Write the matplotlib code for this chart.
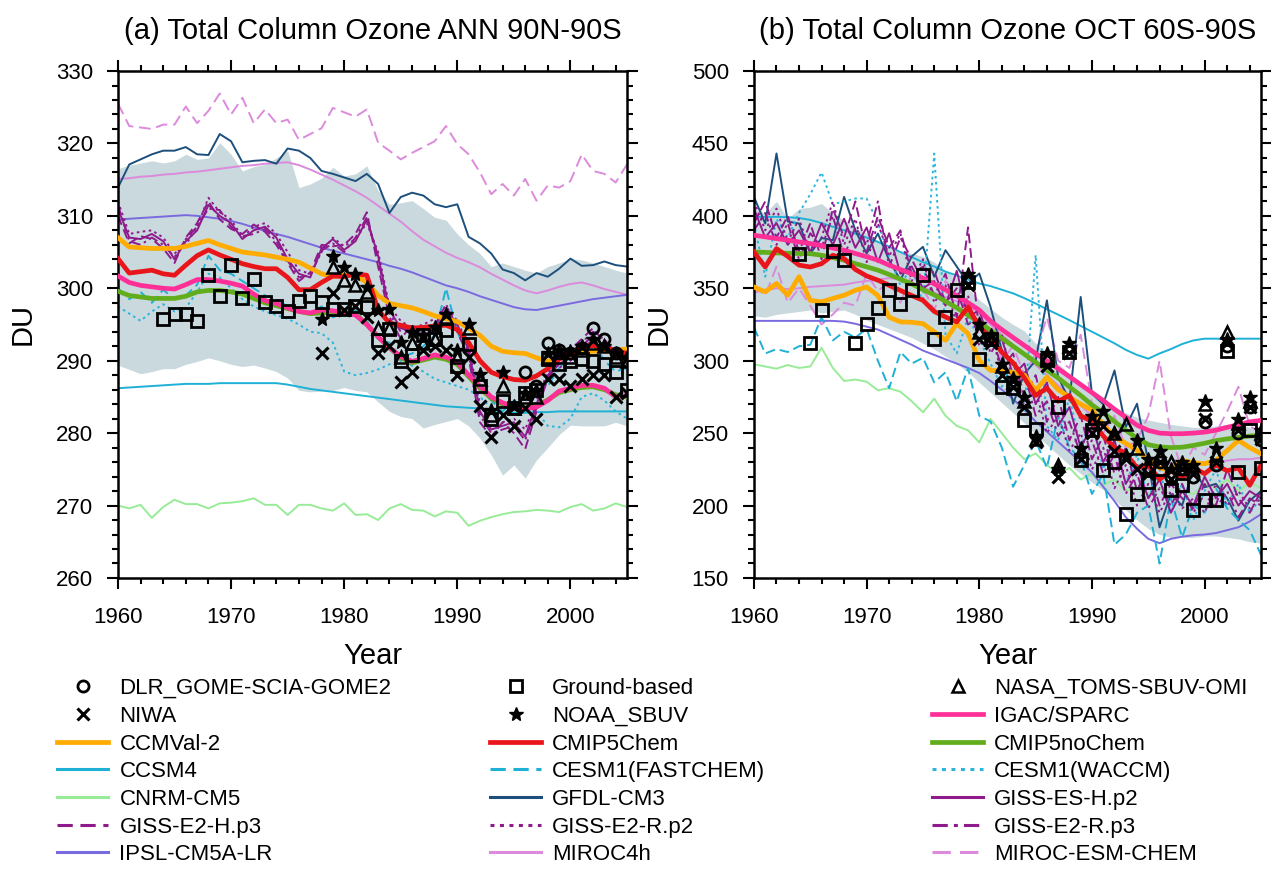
import numpy as np
import matplotlib
matplotlib.use("Agg")
import matplotlib.pyplot as plt
from matplotlib.lines import Line2D
from matplotlib.ticker import MultipleLocator

plt.rcParams['font.family'] = ['Liberation Sans', 'DejaVu Sans']

years = np.arange(1960, 2006)

# ---------------- panel (a): ANN 90N-90S ----------------
a_band_hi = [316.5, 317.0, 317.3, 317.6, 317.3, 317.6, 318.5, 317.8, 318.0, 320.1,
             318.5, 316.2, 316.8, 317.1, 318.0, 319.0, 313.9, 314.4, 315.2, 316.7,
             315.5, 315.8, 316.9, 313.5, 311.6, 311.8, 312.1, 311.0, 309.8, 309.4,
             307.5, 306.0, 304.8, 303.0, 303.5, 303.0, 302.5, 302.1, 303.0, 303.5,
             304.1, 303.9, 303.5, 303.0, 302.5, 302.1]
a_band_lo = [289.4, 288.8, 288.2, 288.5, 288.9, 288.9, 289.5, 289.9, 290.4, 290.0,
             289.5, 289.2, 289.4, 289.0, 288.5, 287.6, 285.9, 285.7, 285.8, 285.9,
             286.3, 285.9, 285.7, 284.3, 283.0, 282.3, 282.0, 280.7, 281.2, 281.6,
             282.0, 281.0, 279.3, 277.0, 274.2, 275.6, 273.8, 276.3, 278.0, 279.8,
             281.1, 281.0, 281.0, 281.0, 281.5, 281.0]
a_ccmval = [307.0, 305.7, 305.6, 305.5, 305.5, 305.5, 305.8, 306.2, 306.6, 306.0,
            305.5, 305.0, 304.8, 304.6, 304.3, 304.0, 303.6, 302.8, 302.0, 301.6,
            301.9, 301.8, 300.8, 299.0, 297.9, 297.6, 297.3, 296.8, 296.2, 295.8,
            295.4, 294.5, 293.5, 292.0, 291.3, 291.1, 291.0, 290.4, 289.9, 290.4,
            290.8, 291.1, 291.3, 291.4, 291.5, 291.6]
a_chem = [304.1, 302.1, 302.3, 302.5, 302.0, 301.8, 303.2, 304.5, 305.3, 304.6,
          304.0, 303.4, 303.0, 302.7, 302.7, 301.5, 299.8, 299.8, 300.8, 301.7,
          301.6, 302.0, 301.8, 297.0, 295.2, 294.9, 294.5, 294.6, 294.8, 294.9,
          294.3, 292.5, 290.0, 288.4, 287.8, 287.4, 287.3, 287.9, 288.9, 290.2,
          291.0, 292.0, 292.1, 291.8, 291.4, 291.0]
a_igac = [301.7, 300.8, 300.4, 300.2, 300.0, 299.9, 300.5, 301.2, 301.2, 301.0,
          300.7, 300.3, 299.2, 298.3, 297.9, 297.3, 296.8, 296.6, 297.0, 296.9,
          296.6, 296.3, 295.0, 293.3, 291.8, 290.6, 289.9, 290.3, 290.8, 290.5,
          289.8, 288.0, 286.5, 285.0, 284.2, 283.6, 283.4, 283.6, 284.5, 285.8,
          286.2, 286.6, 286.6, 286.2, 285.0, 285.2]
a_nochem = [299.6, 299.0, 298.8, 298.6, 298.6, 298.6, 298.9, 299.5, 299.7, 299.7,
            299.5, 299.2, 298.6, 298.0, 297.6, 297.2, 296.8, 296.5, 296.6, 296.7,
            296.8, 296.5, 295.0, 293.3, 291.8, 290.4, 289.7, 290.1, 290.5, 290.2,
            289.5, 287.8, 286.2, 284.8, 284.0, 283.6, 283.5, 283.8, 284.6, 285.6,
            286.0, 286.3, 286.4, 286.0, 285.3, 285.0]
a_ccsm4 = [286.2, 286.3, 286.4, 286.5, 286.6, 286.7, 286.8, 286.8, 286.8, 286.9,
           286.9, 286.9, 286.9, 286.9, 286.9, 286.7, 286.4, 286.1, 285.9, 285.7,
           285.5, 285.3, 285.1, 284.9, 284.7, 284.5, 284.3, 284.1, 283.9, 283.7,
           283.6, 283.5, 283.4, 283.0, 282.7, 282.8, 282.8, 282.9, 282.9, 283.0,
           283.0, 283.0, 283.0, 283.0, 283.0, 283.0]
a_fast = [300.0, 298.5, 299.5, 298.0, 299.8, 298.5, 299.0, 300.5, 304.5, 302.5,
          302.0, 301.0, 300.0, 299.0, 298.5, 297.5, 297.0, 296.5, 297.5, 296.0,
          296.5, 297.0, 295.5, 293.0, 292.5, 290.5, 291.0, 292.0, 293.5, 300.0,
          294.0, 290.5, 286.0, 284.5, 283.0, 284.5, 283.0, 285.5, 286.5, 289.0,
          290.5, 291.5, 292.5, 290.0, 288.5, 289.0]
a_waccm = [297.5, 296.5, 295.5, 296.8, 297.8, 296.8, 297.3, 299.5, 302.0, 301.5,
           300.0, 298.5, 297.5, 296.8, 296.3, 295.8, 295.0, 294.0, 293.8, 292.5,
           288.5, 288.0, 288.3, 288.8, 289.5, 290.0, 289.3, 288.5, 287.5, 287.0,
           286.5, 286.0, 285.0, 283.5, 283.0, 282.8, 283.5, 283.0, 281.0, 280.8,
           282.0, 285.0, 285.5, 284.5, 283.0, 282.0]
a_cnrm = [270.0, 269.6, 270.1, 268.3, 269.8, 270.8, 270.2, 270.2, 269.6, 270.3,
          270.4, 270.6, 271.0, 270.1, 270.1, 268.7, 270.1, 270.1, 269.6, 269.3,
          270.3, 268.7, 268.8, 268.0, 269.6, 270.2, 269.4, 269.3, 268.5, 269.2,
          269.0, 267.2, 267.9, 268.4, 268.8, 269.1, 269.2, 269.4, 269.3, 269.1,
          269.8, 270.2, 269.3, 269.6, 270.3, 269.8]
a_gfdl = [313.9, 317.1, 317.8, 318.5, 319.0, 319.0, 319.5, 318.5, 318.4, 321.3,
          320.3, 317.4, 317.6, 317.7, 317.2, 319.3, 319.0, 318.0, 316.2, 315.8,
          315.3, 314.8, 315.8, 314.4, 310.4, 312.6, 313.2, 312.8, 311.6, 311.2,
          311.6, 307.1, 306.2, 304.8, 302.6, 302.1, 301.1, 302.1, 301.6, 302.7,
          304.1, 303.1, 303.2, 303.7, 303.2, 303.0]
a_giss_h2 = [311.0, 307.0, 306.8, 307.5, 306.5, 304.0, 306.5, 308.0, 311.5, 310.0,
             309.0, 306.8, 308.0, 308.5, 307.0, 304.0, 302.0, 301.5, 305.5, 306.8,
             305.3, 306.5, 309.5, 304.5, 297.0, 294.5, 294.0, 294.5, 295.0, 297.0,
             295.0, 291.5, 283.0, 280.5, 281.0, 281.5, 279.5, 284.0, 288.0, 289.5,
             290.5, 292.0, 293.5, 292.0, 291.5, 290.5]
a_giss_h3 = [310.0, 306.2, 307.2, 306.8, 305.5, 303.5, 307.0, 309.0, 312.0, 309.5,
             308.2, 307.5, 308.8, 307.8, 306.0, 303.5, 301.0, 302.2, 306.0, 305.8,
             306.0, 307.5, 310.5, 303.0, 296.0, 293.0, 295.0, 293.5, 294.5, 296.5,
             294.0, 290.5, 281.5, 279.5, 281.5, 280.0, 277.8, 283.0, 287.5, 290.0,
             291.5, 293.0, 294.5, 292.5, 290.5, 289.5]
a_giss_r2 = [312.0, 307.5, 307.8, 308.0, 307.0, 304.8, 306.0, 308.5, 312.5, 310.5,
             309.5, 307.0, 308.5, 309.0, 307.5, 305.0, 302.5, 302.0, 305.0, 307.0,
             305.8, 306.8, 309.0, 305.0, 297.5, 295.5, 294.5, 295.0, 295.8, 297.5,
             295.5, 292.0, 284.0, 281.0, 281.5, 282.0, 280.5, 284.5, 288.5, 289.0,
             290.0, 291.5, 293.0, 292.5, 291.0, 290.8]
a_giss_r3 = [311.5, 306.5, 306.0, 307.0, 306.0, 304.3, 306.8, 308.5, 311.0, 310.8,
             308.5, 307.2, 307.5, 308.2, 306.5, 303.8, 301.5, 301.8, 305.2, 306.2,
             305.0, 307.0, 309.8, 304.0, 296.5, 294.0, 294.8, 294.0, 294.8, 297.8,
             294.5, 291.0, 282.5, 280.0, 280.5, 281.0, 279.0, 283.5, 287.8, 290.2,
             291.0, 292.5, 294.0, 293.0, 291.0, 290.0]
a_ipsl = [309.5, 309.6, 309.7, 309.8, 309.9, 310.0, 310.1, 310.0, 309.8, 309.6,
          309.3, 308.9, 308.4, 307.9, 307.5, 307.1, 306.6, 306.1, 305.6, 305.2,
          304.8, 304.4, 304.0, 303.6, 303.1, 302.7, 302.2, 301.6, 301.0, 300.4,
          300.0, 299.5, 298.9, 298.4, 297.9, 297.4, 297.1, 297.0, 297.3, 297.6,
          297.9, 298.2, 298.5, 298.7, 298.9, 299.1]
a_miroc4h = [315.1, 315.2, 315.4, 315.5, 315.7, 315.8, 316.0, 316.1, 316.3, 316.5,
             316.7, 316.9, 317.0, 317.2, 317.3, 317.4, 317.0, 316.4, 315.7, 315.0,
             314.2, 313.4, 312.5, 311.4, 310.3, 309.2, 307.9, 306.7, 305.8, 304.9,
             304.2, 303.6, 302.9, 302.0, 301.2, 300.4, 299.7, 299.3, 299.7, 300.2,
             300.6, 300.8, 300.4, 299.9, 299.5, 299.1]
a_esmchem = [325.5, 322.4, 322.2, 322.0, 322.6, 322.6, 325.1, 322.8, 324.5, 326.9,
             324.0, 326.3, 322.8, 324.7, 322.8, 323.3, 320.5, 321.3, 322.1, 324.9,
             324.3, 323.7, 324.7, 320.1, 319.0, 317.8, 318.7, 319.5, 320.3, 322.4,
             319.9, 318.5, 316.0, 313.0, 314.4, 312.8, 315.1, 312.1, 314.2, 313.9,
             314.8, 318.5, 316.2, 315.8, 314.6, 317.1]

a_gb_years = np.arange(1964, 2006)
a_gb = [295.7, 296.5, 296.5, 295.5, 301.8, 298.9, 303.2, 298.6, 301.3, 298.1,
        297.5, 296.8, 298.3, 298.9, 298.1, 297.2, 297.2, 297.6, 297.4, 292.8,
        294.4, 290.0, 290.8, 293.5, 293.0, 294.2, 289.2, 292.3, 286.5, 282.0,
        284.5, 283.5, 285.5, 286.0, 290.3, 289.5, 290.0, 290.3, 290.0, 289.5,
        288.5, 286.0]
a_niwa_years = np.arange(1978, 2006)
a_niwa = [291.1, 299.4, 297.0, 297.5, 296.0, 291.0, 292.0, 287.0, 288.5, 291.5,
          292.0, 291.5, 288.0, 290.5, 283.8, 279.5, 282.5, 281.0, 283.5, 282.0,
          287.5, 287.5, 286.5, 287.5, 288.0, 288.0, 285.0, 285.5]
a_noaa_years = np.arange(1978, 2006)
a_noaa = [295.8, 304.5, 302.9, 302.0, 300.2, 297.0, 297.2, 292.6, 293.9, 293.5,
          294.6, 296.5, 291.5, 295.1, 288.1, 283.2, 288.5, 283.7, 285.5, 286.0,
          291.0, 291.5, 291.3, 292.0, 293.0, 292.0, 291.0, 290.5]
a_nasa_years = np.arange(1979, 2006)
a_nasa = [303.0, 301.1, 300.5, 299.5, 294.5, 294.5, 290.5, 292.5, 292.5, 293.0,
          296.0, 290.5, 294.5, 287.5, 282.5, 286.5, 283.5, 285.0, 285.0, 290.5,
          290.5, 290.5, 291.5, 292.5, 292.0, 290.5, 290.0]
a_dlr_years = np.arange(1996, 2006)
a_dlr = [288.5, 286.5, 292.5, 291.5, 291.0, 291.8, 294.5, 293.0, 291.0, 290.0]

# ---------------- panel (b): OCT 60S-90S ----------------
b_band_hi = [405, 402, 410, 398, 405, 406, 408.5, 402, 397, 392,
             388, 383, 378, 376, 374, 372, 368, 362, 357, 350,
             342, 336, 330, 325, 320.6, 312, 305, 298, 291, 285,
             278, 273, 268, 264, 261, 259, 257.5, 256, 255, 254,
             254, 255, 256, 256, 254, 253]
b_band_lo = [331, 330, 332, 333, 334, 335, 333, 334, 335, 332,
             328, 325, 322, 319, 316, 312, 308, 303, 298, 292,
             285, 278, 271, 264, 257, 249, 242, 235, 228, 222,
             216, 211, 204, 197, 190, 184, 180, 178, 178, 178,
             179, 179, 178, 177, 175, 174]
b_ccmval = [350.9, 347.5, 353.3, 345.2, 358.0, 341.7, 340.6, 343.0, 345.2, 348.6,
            350.9, 345.0, 330.0, 326.8, 326.5, 325.6, 320.0, 314.1, 325.6, 318.7,
            300.2, 293.3, 293.0, 292.0, 290.0, 279.5, 288.7, 280.0, 274.9, 270.0,
            266.0, 256.0, 247.5, 243.0, 238.1, 232.0, 226.0, 224.3, 231.2, 229.5,
            228.9, 231.2, 238.0, 245.0, 240.0, 235.8]
b_chem = [375.0, 364.7, 377.4, 372.0, 366.0, 364.7, 367.0, 372.8, 370.5, 363.0,
          358.5, 355.6, 352.0, 348.5, 345.0, 341.7, 334.0, 330.2, 326.8, 337.1,
          323.3, 315.5, 306.0, 298.5, 288.0, 276.0, 281.0, 272.0, 276.0, 262.0,
          258.0, 248.0, 240.0, 236.0, 226.0, 228.0, 218.0, 224.0, 219.0, 226.0,
          222.0, 228.0, 224.0, 226.0, 214.0, 228.0]
b_igac = [386.6, 385.5, 384.3, 383.2, 382.0, 380.9, 379.5, 377.8, 376.3, 374.0,
          371.8, 369.4, 366.0, 363.0, 360.0, 357.0, 353.0, 349.0, 344.8, 340.0,
          335.0, 327.3, 321.5, 316.0, 310.5, 305.0, 299.8, 294.5, 289.0, 283.5,
          278.0, 272.5, 266.5, 261.0, 255.5, 251.9, 250.0, 249.6, 249.6, 250.0,
          250.7, 252.0, 254.0, 255.8, 257.8, 258.8]
b_nochem = [375.1, 374.8, 374.4, 374.2, 374.0, 373.9, 372.8, 371.2, 369.4, 367.0,
            364.8, 362.5, 359.5, 356.3, 353.0, 349.0, 345.5, 341.0, 336.5, 331.5,
            326.5, 321.0, 315.5, 310.0, 304.5, 299.0, 293.5, 288.0, 282.0, 276.0,
            269.5, 264.0, 258.0, 252.0, 246.5, 242.0, 240.5, 240.0, 240.3, 241.5,
            243.0, 244.8, 246.0, 247.0, 248.0, 248.4]
b_ccsm4 = [399.3, 399.3, 399.3, 399.1, 398.5, 397.2, 395.0, 392.5, 390.0, 387.7,
           385.0, 382.0, 378.8, 375.0, 371.5, 368.0, 365.0, 361.5, 358.8, 356.0,
           353.3, 351.5, 349.0, 346.5, 343.2, 339.5, 335.5, 331.8, 328.0, 324.0,
           320.0, 316.0, 312.0, 307.5, 304.0, 301.4, 305.0, 308.0, 311.5, 314.0,
           315.2, 315.2, 315.2, 315.2, 315.2, 315.2]
b_fast = [323, 305, 308, 306, 310, 311, 330, 314, 320, 316,
          322, 300, 281, 306, 298, 302, 285, 292, 272, 295,
          262, 258, 240, 213, 228, 245, 226, 262, 240, 232,
          208, 222, 173, 180, 195, 200, 160, 205, 178, 200,
          195, 212, 198, 190, 183, 166]
b_waccm = [395, 358, 398, 385, 402, 415, 430, 408, 410, 412,
           412, 395, 372, 352, 365, 340, 443, 318, 305, 330,
           315, 298, 282, 300, 265, 373, 255, 245, 275, 240,
           262, 225, 245, 215, 235, 205, 225, 195, 215, 190,
           210, 225, 200, 215, 195, 205]
b_cnrm = [297.5, 296.0, 294.5, 297.0, 295.0, 296.0, 309.0, 295.0, 286.0, 287.0,
          285.5, 279.6, 281.0, 278.6, 272.0, 264.4, 273.8, 262.0, 255.0, 252.0,
          243.6, 259.8, 250.0, 240.0, 232.0, 236.0, 228.0, 222.0, 226.0, 218.0,
          222.0, 214.0, 218.0, 210.0, 214.0, 208.0, 212.0, 205.0, 210.0, 208.0,
          215.0, 212.0, 218.0, 210.0, 216.0, 212.0]
b_gfdl = [413.1, 394.7, 443.1, 396.1, 394.7, 374.0, 384.7, 383.2, 413.1, 390.0,
          374.0, 387.8, 369.4, 355.6, 372.0, 378.6, 358.0, 376.3, 365.0, 353.3,
          360.2, 337.1, 307.2, 270.3, 291.0, 300.0, 341.7, 288.7, 272.6, 344.0,
          277.2, 270.0, 293.3, 254.2, 270.3, 230.0, 185.0, 208.0, 200.0, 225.0,
          212.6, 215.0, 205.0, 189.6, 203.4, 210.0]
b_giss_h2 = [405, 385, 395, 380, 390, 375, 395, 380, 398, 378,
             392, 368, 388, 360, 365, 350, 355, 338, 362, 330,
             335, 310, 315, 290, 298, 270, 285, 255, 268, 240,
             255, 230, 245, 215, 228, 205, 218, 195, 210, 200,
             220, 205, 215, 200, 210, 205]
b_giss_h3 = [395, 410, 385, 400, 375, 395, 370, 405, 385, 410,
             375, 400, 378, 390, 360, 365, 345, 360, 330, 392,
             320, 320, 295, 305, 275, 290, 258, 275, 245, 262,
             232, 248, 222, 240, 210, 228, 200, 215, 205, 198,
             215, 200, 225, 205, 195, 210]
b_giss_r2 = [410, 390, 405, 382, 398, 375, 385, 410, 380, 398,
             368, 395, 372, 388, 355, 370, 340, 352, 325, 345,
             310, 322, 290, 300, 268, 280, 250, 262, 238, 250,
             225, 240, 212, 228, 200, 215, 195, 210, 198, 205,
             195, 215, 200, 210, 198, 205]
b_giss_r3 = [390, 402, 380, 395, 370, 388, 378, 400, 372, 392,
             380, 410, 365, 385, 370, 355, 362, 340, 350, 325,
             330, 305, 318, 285, 292, 262, 272, 248, 258, 235,
             245, 222, 235, 208, 222, 198, 212, 200, 215, 195,
             208, 198, 210, 192, 205, 200]
b_ipsl = [327.5, 327.5, 327.5, 327.5, 327.5, 327.5, 327.5, 327.5, 327.0, 325.5,
          323.5, 321.5, 318.0, 314.5, 311.0, 307.0, 304.0, 301.0, 298.0, 295.0,
          291.5, 286.0, 280.0, 273.5, 266.0, 258.0, 251.0, 244.0, 237.0, 230.0,
          223.0, 213.0, 203.0, 192.0, 184.0, 177.0, 174.0, 177.0, 178.5, 179.5,
          180.0, 181.0, 183.0, 185.0, 189.0, 194.0]
b_miroc4h = [347, 349, 350, 349.5, 350, 351, 351.5, 352, 352.5, 354,
             355, 356, 357, 356, 354, 351, 347, 344, 341, 338,
             333, 325, 318, 311, 304, 297, 290, 283, 276, 269,
             262, 255, 249, 243, 238, 234, 231, 229, 228, 228,
             229, 230, 231, 232, 232, 233]
b_esmchem = [352, 345, 365, 340, 350, 338, 325, 332, 340, 338,
             360, 348, 355, 340, 360, 350, 335, 355, 345, 335,
             318, 330, 300, 310, 290, 305, 330, 300, 295, 318,
             270, 250, 262, 240, 245, 262, 300, 248, 225, 240,
             235, 250, 265, 282, 255, 250]

b_gb_years = np.arange(1964, 2006)
b_gb = [374.0, 312.2, 334.8, 375.6, 369.4, 312.2, 325.6, 336.4, 349.1, 339.4,
        348.6, 359.0, 315.2, 330.2, 348.6, 354.0, 301.4, 315.2, 281.8, 280.9,
        258.8, 253.0, 300.2, 268.0, 306.0, 231.1, 251.9, 224.3, 230.0, 194.3,
        208.2, 216.1, 225.0, 210.4, 214.0, 196.6, 203.5, 203.5, 307.0, 223.0,
        252.0, 226.0]
b_obs_years = np.arange(1979, 2006)
b_niwa = [352, 315, 312, 290, 282, 268, 244, 296, 220, 305, 232, 250, 255, 238,
          232, 225, 222, 230, 218, 225, 222, 260, 230, 312, 252, 268, 246]
b_noaa = [360, 325, 318, 298, 288, 275, 248, 305, 225, 312, 240, 262, 265, 250,
          235, 245, 232, 238, 225, 230, 228, 272, 240, 315, 260, 275, 252]
b_nasa = [358, 320, 315, 296, 285, 272, 246, 302, 228, 310, 238, 258, 262, 250,
          256, 240, 226, 235, 230, 226, 228, 270, 235, 320, 257, 272, 250]
b_dlr_years = np.arange(1996, 2006)
b_dlr = [230, 220, 225, 220, 258, 228, 310, 250, 268, 245]

# ---------------- styles ----------------
thin = 1.4
thick = 3.4
styles = {
    "CCMVal-2":        dict(color="#ffab00", lw=thick, ls="-"),
    "CMIP5Chem":       dict(color="#e8151b", lw=thick, ls="-"),
    "CMIP5noChem":     dict(color="#62ad1c", lw=thick, ls="-"),
    "IGAC/SPARC":      dict(color="#ff2f98", lw=thick, ls="-"),
    "CCSM4":           dict(color="#1fb0d6", lw=thin, ls="-"),
    "CESM1(FASTCHEM)": dict(color="#1fb0d6", lw=thin, ls=(0, (5, 2.5))),
    "CESM1(WACCM)":    dict(color="#2bb5dc", lw=thin, ls=(0, (1.3, 1.8))),
    "CNRM-CM5":        dict(color="#98ec98", lw=thin, ls="-"),
    "GFDL-CM3":        dict(color="#1d4f7c", lw=thin, ls="-"),
    "GISS-ES-H.p2":    dict(color="#8e1a8c", lw=thin, ls="-"),
    "GISS-E2-H.p3":    dict(color="#8e1a8c", lw=thin, ls=(0, (5, 2.5))),
    "GISS-E2-R.p2":    dict(color="#8e1a8c", lw=thin, ls=(0, (1.3, 1.8))),
    "GISS-E2-R.p3":    dict(color="#8e1a8c", lw=thin, ls=(0, (5, 2, 1.3, 2))),
    "IPSL-CM5A-LR":    dict(color="#7a6ae0", lw=thin, ls="-"),
    "MIROC4h":         dict(color="#dc8adc", lw=thin, ls="-"),
    "MIROC-ESM-CHEM":  dict(color="#dc8adc", lw=thin, ls=(0, (6, 3))),
}
obs_styles = {
    "DLR_GOME-SCIA-GOME2": dict(marker="o", ms=8, mfc="none", mec="black", mew=2.0),
    "Ground-based":        dict(marker="s", ms=8, mfc="none", mec="black", mew=2.0),
    "NASA_TOMS-SBUV-OMI":  dict(marker="^", ms=8, mfc="none", mec="black", mew=1.8),
    "NIWA":                dict(marker="x", ms=8, mfc="none", mec="black", mew=2.2),
    "NOAA_SBUV":           dict(marker="*", ms=10, mfc="black", mec="black", mew=1.0),
}

thin_order = ["CNRM-CM5", "CCSM4", "MIROC-ESM-CHEM", "MIROC4h", "IPSL-CM5A-LR",
              "GFDL-CM3", "CESM1(FASTCHEM)", "CESM1(WACCM)", "GISS-ES-H.p2",
              "GISS-E2-H.p3", "GISS-E2-R.p2", "GISS-E2-R.p3"]
thick_order = ["CCMVal-2", "CMIP5noChem", "IGAC/SPARC", "CMIP5Chem"]

panel_a = {
    "CCMVal-2": a_ccmval, "CMIP5Chem": a_chem, "CMIP5noChem": a_nochem,
    "IGAC/SPARC": a_igac, "CCSM4": a_ccsm4, "CESM1(FASTCHEM)": a_fast,
    "CESM1(WACCM)": a_waccm, "CNRM-CM5": a_cnrm, "GFDL-CM3": a_gfdl,
    "GISS-ES-H.p2": a_giss_h2, "GISS-E2-H.p3": a_giss_h3,
    "GISS-E2-R.p2": a_giss_r2, "GISS-E2-R.p3": a_giss_r3,
    "IPSL-CM5A-LR": a_ipsl, "MIROC4h": a_miroc4h, "MIROC-ESM-CHEM": a_esmchem,
}
obs_a = [("Ground-based", a_gb_years, a_gb), ("NIWA", a_niwa_years, a_niwa),
         ("NASA_TOMS-SBUV-OMI", a_nasa_years, a_nasa),
         ("NOAA_SBUV", a_noaa_years, a_noaa),
         ("DLR_GOME-SCIA-GOME2", a_dlr_years, a_dlr)]

panel_b = {
    "CCMVal-2": b_ccmval, "CMIP5Chem": b_chem, "CMIP5noChem": b_nochem,
    "IGAC/SPARC": b_igac, "CCSM4": b_ccsm4, "CESM1(FASTCHEM)": b_fast,
    "CESM1(WACCM)": b_waccm, "CNRM-CM5": b_cnrm, "GFDL-CM3": b_gfdl,
    "GISS-ES-H.p2": b_giss_h2, "GISS-E2-H.p3": b_giss_h3,
    "GISS-E2-R.p2": b_giss_r2, "GISS-E2-R.p3": b_giss_r3,
    "IPSL-CM5A-LR": b_ipsl, "MIROC4h": b_miroc4h, "MIROC-ESM-CHEM": b_esmchem,
}
obs_b = [("Ground-based", b_gb_years, b_gb), ("NIWA", b_obs_years, b_niwa),
         ("NASA_TOMS-SBUV-OMI", b_obs_years, b_nasa),
         ("NOAA_SBUV", b_obs_years, b_noaa),
         ("DLR_GOME-SCIA-GOME2", b_dlr_years, b_dlr)]


def draw_panel(ax, models, obs, lo, hi, title, ylim, ymajor, yminor):
    ax.fill_between(years, lo, hi, color="#c9d9dd", lw=0, zorder=1)
    for name in thin_order:
        st = styles[name]
        ax.plot(years, models[name], color=st["color"], lw=st["lw"],
                ls=st["ls"], zorder=2)
    for name in thick_order:
        st = styles[name]
        ax.plot(years, models[name], color=st["color"], lw=st["lw"],
                ls=st["ls"], zorder=3, solid_joinstyle="round")
    for name, yrs, vals in obs:
        ax.plot(yrs, vals, ls="none", zorder=4, **obs_styles[name])

    ax.set_xlim(1960, 2005)
    ax.set_ylim(*ylim)
    ax.xaxis.set_major_locator(MultipleLocator(10))
    ax.xaxis.set_minor_locator(MultipleLocator(2))
    ax.yaxis.set_major_locator(MultipleLocator(ymajor))
    ax.yaxis.set_minor_locator(MultipleLocator(yminor))
    ax.tick_params(which="both", direction="out", top=True, right=True,
                   labelsize=16, pad=10, width=1.5)
    ax.tick_params(axis="x", which="both", pad=13)
    ax.tick_params(which="major", length=8)
    ax.tick_params(which="minor", length=4)
    for sp in ax.spines.values():
        sp.set_linewidth(1.8)
    ax.set_title(title, fontsize=21, pad=23)
    ax.set_xlabel("Year", fontsize=21, labelpad=10)
    ax.set_ylabel("DU", fontsize=21, labelpad=14)


fig = plt.figure(figsize=(12.71, 8.90), dpi=100)
ax1 = fig.add_axes([0.0928, 0.3506, 0.4005, 0.5696])
ax2 = fig.add_axes([0.5932, 0.3506, 0.3989, 0.5696])

draw_panel(ax1, panel_a, obs_a, a_band_lo, a_band_hi,
           "(a) Total Column Ozone ANN 90N-90S", (260, 330), 10, 2)
draw_panel(ax2, panel_b, obs_b, b_band_lo, b_band_hi,
           "(b) Total Column Ozone OCT 60S-90S", (150, 500), 50, 10)

# legend: three columns, filled row by row like the original
legend_cols = [
    ["DLR_GOME-SCIA-GOME2", "NIWA", "CCMVal-2", "CCSM4", "CNRM-CM5",
     "GISS-E2-H.p3", "IPSL-CM5A-LR"],
    ["Ground-based", "NOAA_SBUV", "CMIP5Chem", "CESM1(FASTCHEM)", "GFDL-CM3",
     "GISS-E2-R.p2", "MIROC4h"],
    ["NASA_TOMS-SBUV-OMI", "IGAC/SPARC", "CMIP5noChem", "CESM1(WACCM)",
     "GISS-ES-H.p2", "GISS-E2-R.p3", "MIROC-ESM-CHEM"],
]
col_x = [0.045, 0.3855, 0.7333]


def make_handle(name):
    if name in obs_styles:
        return Line2D([], [], ls="none", **obs_styles[name])
    st = styles[name]
    return Line2D([], [], color=st["color"], lw=st["lw"] if st["lw"] > 2 else 2.2,
                  ls=st["ls"])


for names, x0 in zip(legend_cols, col_x):
    handles = [make_handle(n) for n in names]
    fig.legend(handles, names, loc="upper left", bbox_to_anchor=(x0, 0.238),
               frameon=False, fontsize=16, handlelength=2.3,
               handletextpad=0.5, labelspacing=0.3, borderpad=0,
               borderaxespad=0, numpoints=1)

fig.savefig("out.png", dpi=100)
